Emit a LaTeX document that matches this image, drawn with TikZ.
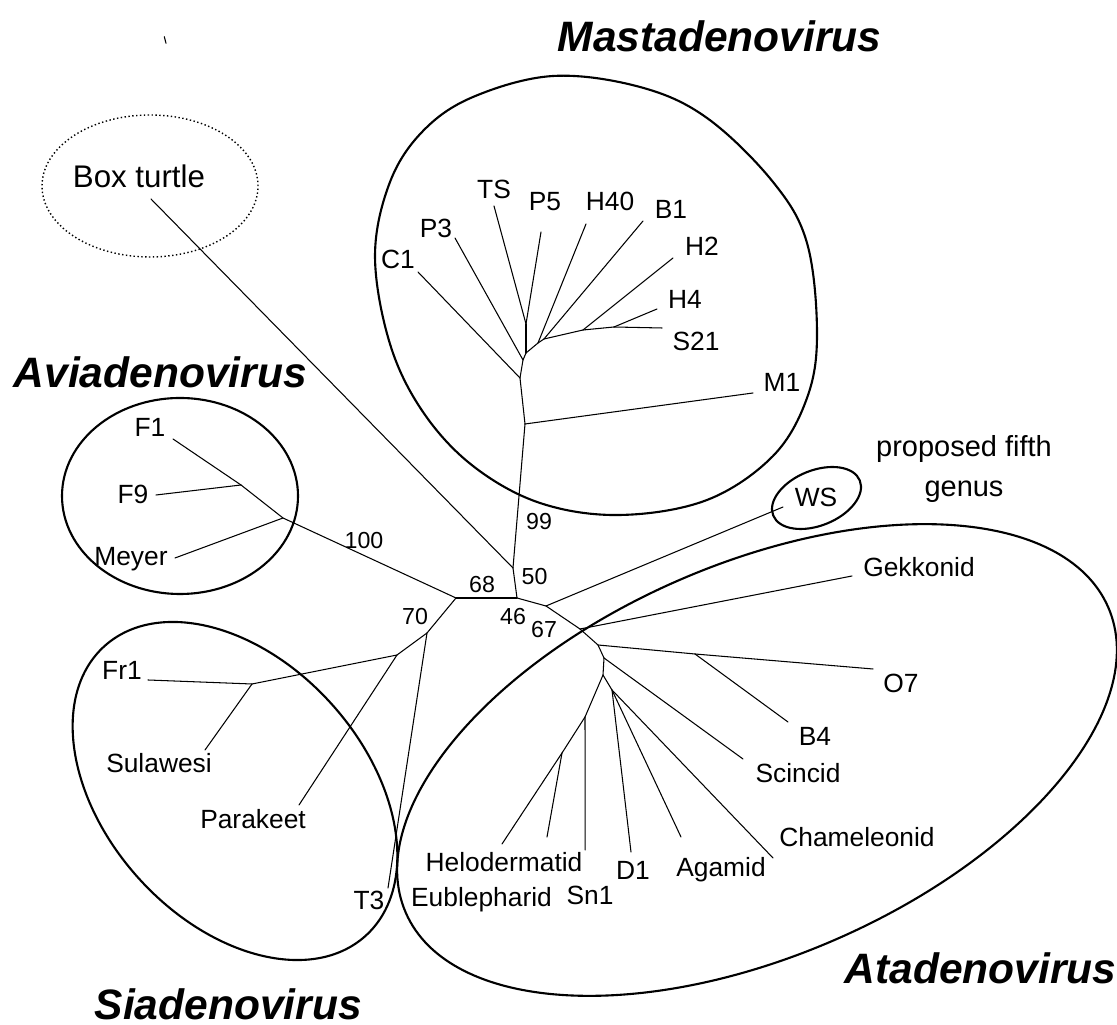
\documentclass[tikz,border=0pt]{standalone}
\usepackage{fontspec}
\setmainfont{Liberation Sans}
\usepackage{tkz-euclide}
\tikzset{
  taxon/.style={font=\fontsize{7.5}{9}\selectfont,anchor=base,inner sep=0pt},
  boot/.style={font=\fontsize{6.6}{8}\selectfont,anchor=base,inner sep=0pt},
  genus/.style={font=\bfseries\itshape\fontsize{12.1}{14}\selectfont,anchor=base west,inner sep=0pt},
  clade/.style={line width=0.6pt},
}

\begin{document}
\begin{tikzpicture}
\useasboundingbox (0,0) rectangle (11.17,10.25);
\tkzSetUpLine[line width=0.3pt,color=black]

% Mastadenovirus
\tkzDefPoints{5.25/6.01/mM,5.20/6.47/mC,5.23/6.65/mP,5.26/6.72/mA,5.26/7.01/mT,5.38/6.82/mB,5.44/6.86/mE,5.83/6.95/mH,6.14/6.98/mS}
\tkzDefPoints{7.53/6.32/tM1,4.18/7.53/tC1,4.55/7.87/tP3,4.94/8.19/tTS,5.41/7.93/tP5,5.86/8.01/tH40,6.43/8.04/tB1,6.73/7.67/tH2,6.57/7.16/tH4,6.62/6.97/tS21}

% centre, Aviadenovirus, Siadenovirus
\tkzDefPoints{5.13/4.57/nBT,5.17/4.27/nC,4.56/4.27/nL,2.83/5.07/nAv,2.41/5.40/nF,4.27/3.92/nSi,3.97/3.70/nPa,2.52/3.41/nFr}
\tkzDefPoints{1.51/8.26/tBox,1.73/5.86/tF1,1.56/5.30/tF9,1.75/4.67/tMe,1.48/3.45/tFr1,2.05/2.75/tSu,2.99/2.20/tPa,3.88/1.37/tT3}

% Atadenovirus
\tkzDefPoints{5.46/4.19/nWS,5.80/3.96/nGe,5.98/3.80/nO,6.95/3.71/nB4,6.04/3.67/nSc,6.03/3.50/nLo,5.85/3.08/nSn,5.62/2.72/nHe,6.12/3.35/nDA}
\tkzDefPoints{7.83/5.18/tWS,8.52/4.49/tGe,8.73/3.56/tO7,7.88/3.03/tB4,7.43/2.66/tSc,5.852/1.75/tSn1,5.02/1.81/tHe,5.47/1.88/tEu,6.31/1.73/tD1,6.81/1.88/tAg,7.73/1.67/tCh}

\tkzDefPoints{1.643/9.883/k1,1.660/9.817/k2}

\tkzDrawSegments(mM,tM1 mM,mC mC,tC1 mC,mP mP,tP3 mP,mA mA,mT mT,tTS mT,tP5 mA,mB mB,tH40 mB,mE mE,tB1 mE,mH mH,tH2 mH,mS mS,tH4 mS,tS21)
\tkzDrawSegments(nBT,mM nBT,tBox nBT,nC nC,nL nL,nAv nAv,tMe nAv,nF nF,tF9 nF,tF1)
\tkzDrawSegments(nL,nSi nSi,tT3 nSi,nPa nPa,tPa nPa,nFr nFr,tFr1 nFr,tSu)
\tkzDrawSegments(nC,nWS nWS,tWS nWS,nGe nGe,tGe nGe,nO nO,nB4 nB4,tO7 nB4,tB4 nO,nSc nSc,tSc nSc,nLo)
\tkzDrawSegments(nLo,nSn nSn,tSn1 nSn,nHe nHe,tHe nHe,tEu nLo,nDA nDA,tD1 nDA,tAg nDA,tCh)
\tkzDrawSegment(k1,k2)

% clades
\draw[clade] plot[smooth cycle,tension=0.6] coordinates {(5.53,9.49) (6.40,9.38) (7.07,9.07) (7.73,8.43) (8.07,7.82) (8.17,6.91) (8.07,6.27) (7.73,5.69) (7.07,5.25) (6.20,5.10) (5.40,5.22) (4.73,5.59) (4.23,6.13) (3.90,6.81) (3.75,7.69) (3.90,8.43) (4.23,8.94) (4.73,9.28)};
\draw[clade] (1.80,5.29) ellipse [x radius=1.18,y radius=0.98];
\draw[clade,rotate around={-48:(2.35,2.34)}] (2.35,2.34) ellipse [x radius=1.95,y radius=1.30];
\draw[clade,rotate around={23.5:(7.57,2.65)}] (7.57,2.65) ellipse [x radius=3.83,y radius=1.96];
\draw[clade,rotate around={22:(8.165,5.27)}] (8.165,5.27) ellipse [x radius=0.467,y radius=0.276];
\draw[line width=0.4pt,dash pattern=on 0.4pt off 0.7pt] (1.50,8.39) ellipse [x radius=1.08,y radius=0.71];

% genus names
\node[genus] (mast) at (5.57,9.73) {Mastadenovirus};
\node[genus] (avia) at (0.13,6.37) {Aviadenovirus};
\node[genus] (siad) at (0.94,0.05) {Siadenovirus};
\node[genus] (atad) at (8.44,0.41) {Atadenovirus};

\node[taxon,font=\fontsize{8.9}{10}\selectfont] (box) at (1.39,8.37) {Box turtle};
\node[taxon,font=\fontsize{8.25}{10}\selectfont] (prop) at (9.64,5.68) {proposed fifth};
\node[taxon,font=\fontsize{8.25}{10}\selectfont] (gen) at (9.64,5.28) {genus};

\node[taxon] (TS) at (4.94,8.26) {TS};
\node[taxon] (P5) at (5.45,8.14) {P5};
\node[taxon] (H40) at (6.10,8.14) {H40};
\node[taxon] (B1) at (6.71,8.06) {B1};
\node[taxon] (H2) at (7.02,7.69) {H2};
\node[taxon] (H4) at (6.85,7.16) {H4};
\node[taxon] (S21) at (6.96,6.74) {S21};
\node[taxon] (M1) at (7.82,6.33) {M1};
\node[taxon] (P3) at (4.36,7.87) {P3};
\node[taxon] (C1) at (3.98,7.56) {C1};

\node[taxon] (F1) at (1.50,5.88) {F1};
\node[taxon] (F9) at (1.33,5.21) {F9};
\node[taxon] (Me) at (1.31,4.59) {Meyer};
\node[taxon] (Fr1) at (1.22,3.45) {Fr1};
\node[taxon] (Su) at (1.59,2.52) {Sulawesi};
\node[taxon] (Pa) at (2.53,1.96) {Parakeet};
\node[taxon] (T3) at (3.69,1.15) {T3};

\node[taxon] (WS) at (8.16,5.18) {WS};
\node[taxon] (Ge) at (9.19,4.48) {Gekkonid};
\node[taxon] (O7) at (9.01,3.32) {O7};
\node[taxon] (B4) at (8.15,2.79) {B4};
\node[taxon] (Sc) at (7.98,2.42) {Scincid};
\node[taxon] (Ch) at (8.57,1.78) {Chameleonid};
\node[taxon] (Ag) at (7.21,1.48) {Agamid};
\node[taxon] (D1) at (6.33,1.45) {D1};
\node[taxon] (Sn1) at (5.90,1.20) {Sn1};
\node[taxon] (He) at (5.04,1.53) {Helodermatid};
\node[taxon] (Eu) at (4.815,1.18) {Eublepharid};

% bootstrap values
\node[boot] (b99) at (5.39,4.95) {99};
\node[boot] (b100) at (3.64,4.76) {100};
\node[boot] (b50) at (5.345,4.40) {50};
\node[boot] (b68) at (4.82,4.32) {68};
\node[boot] (b70) at (4.15,4.00) {70};
\node[boot] (b46) at (5.13,4.00) {46};
\node[boot] (b67) at (5.44,3.87) {67};
\end{tikzpicture}
\end{document}
